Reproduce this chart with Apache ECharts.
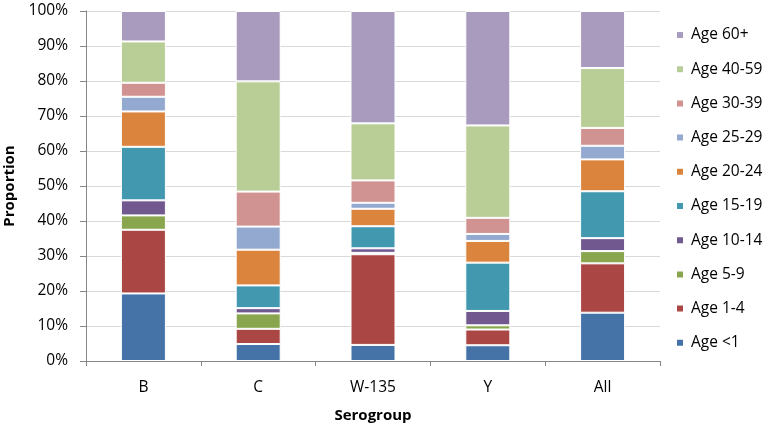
<!DOCTYPE html>
<html>
<head>
<meta charset="utf-8">
<script src="https://cdn.jsdelivr.net/npm/echarts@6/dist/echarts.min.js"></script>
<style>html,body{margin:0;padding:0;background:#fff;}#c{width:767px;height:430px;}</style>
</head>
<body>
<div id="c"></div>
<script>
const categories = ['B', 'C', 'W-135', 'Y', 'All'];
const seriesNames = ['Age <1', 'Age 1-4', 'Age 5-9', 'Age 10-14', 'Age 15-19', 'Age 20-24', 'Age 25-29', 'Age 30-39', 'Age 40-59', 'Age 60+'];
const ageLt1   = [19.3, 4.85, 4.6, 4.5, 13.8];
const age1_4   = [18.2, 4.35, 25.9, 4.5, 14.1];
const age5_9   = [4.1, 4.4, 0.4, 1.2, 3.5];
const age10_14 = [4.3, 1.5, 1.3, 4.1, 3.7];
const age15_19 = [15.3, 6.5, 6.3, 13.8, 13.4];
const age20_24 = [10.1, 10.2, 5.0, 6.2, 9.1];
const age25_29 = [4.2, 6.6, 1.7, 2.0, 3.9];
const age30_39 = [4.0, 10.0, 6.4, 4.6, 5.1];
const age40_59 = [11.8, 31.5, 16.3, 26.4, 17.1];
const age60p   = [8.7, 20.1, 32.1, 32.7, 16.3];
const yTicks = [0, 10, 20, 30, 40, 50, 60, 70, 80, 90, 100];

const seriesData = [ageLt1, age1_4, age5_9, age10_14, age15_19, age20_24, age25_29, age30_39, age40_59, age60p];
const colors = ['#4572A7', '#AA4643', '#89A54E', '#71588F', '#4198AF', '#DB843D', '#93A9CF', '#D19392', '#B9CD96', '#A99BBD'];
const FONT = '"Open Sans", sans-serif';

const chart = echarts.init(document.getElementById('c'), null, {renderer: 'canvas'});
chart.setOption({
  animation: false,
  color: colors,
  textStyle: {fontFamily: FONT, color: '#000'},
  grid: {left: 86, right: 107, top: 11, height: 350, containLabel: false, outerBoundsMode: 'none'},
  legend: {
    orient: 'vertical',
    left: 675,
    top: 27,
    padding: 0,
    itemWidth: 8,
    itemHeight: 8,
    itemGap: 18.2,
    icon: 'rect',
    data: seriesNames.slice().reverse(),
    textStyle: {fontFamily: FONT, fontSize: 15.5, color: '#000', lineHeight: 16, padding: [0, 0, 0, 2]}
  },
  xAxis: {
    type: 'category',
    data: categories,
    name: 'Serogroup',
    nameLocation: 'middle',
    nameGap: 47,
    nameTextStyle: {fontFamily: FONT, fontSize: 15, fontWeight: 'bold', color: '#000'},
    axisLine: {lineStyle: {color: '#868686', width: 1}},
    axisTick: {show: true, length: 5, lineStyle: {color: '#868686'}},
    axisLabel: {fontFamily: FONT, fontSize: 15.5, color: '#000', margin: 19}
  },
  yAxis: {
    type: 'value',
    min: yTicks[0],
    max: yTicks[yTicks.length - 1],
    interval: 10,
    name: 'Proportion',
    nameLocation: 'middle',
    nameRotate: 90,
    nameGap: 68,
    nameTextStyle: {fontFamily: FONT, fontSize: 15, fontWeight: 'bold', color: '#000'},
    axisLine: {show: true, lineStyle: {color: '#868686', width: 1}},
    axisTick: {show: true, length: 6, lineStyle: {color: '#868686'}},
    axisLabel: {fontFamily: FONT, fontSize: 15.5, color: '#000', margin: 18, formatter: '{value}%'},
    splitLine: {lineStyle: {color: '#d9d9d9', width: 1}}
  },
  series: seriesNames.map((n, i) => ({
    name: n,
    type: 'bar',
    stack: 'total',
    barWidth: 45,
    data: seriesData[i],
    itemStyle: {borderColor: '#fff', borderWidth: 1}
  }))
});
</script>
</body>
</html>
